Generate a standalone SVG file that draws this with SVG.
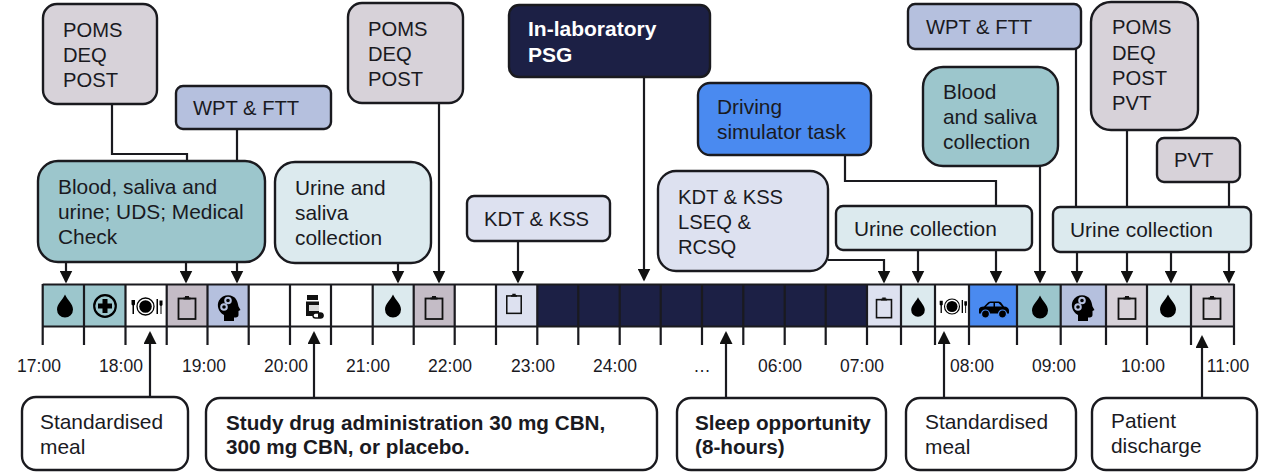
<svg xmlns="http://www.w3.org/2000/svg" width="1280" height="473" viewBox="0 0 1280 473">
<style>
text{font-family:"Liberation Sans",Arial,sans-serif;font-size:20.9px;fill:#1a1a1f}
text.k{font-size:20.200px}
.n rect{stroke:#1a1a1f;stroke-width:2.400}
.w rect{fill:#fff}
.bold text{font-weight:700;font-size:20.700px}
.teal{fill:#9cc6cc}.pale{fill:#dceaee}.mauve{fill:#d7d2d9}.peri{fill:#b5c0de}.lav{fill:#dde1f0}.navy{fill:#1c2045}.blue{fill:#4a8af0}
text.t{font-size:17.500px;text-anchor:middle}
.c{fill:none;stroke:#1a1a1f;stroke-width:2.200}
.a{marker-end:url(#ah)}
.tick{stroke:#1a1a1f;stroke-width:2.200;fill:none}
text.wh{fill:#fff;font-weight:700;font-size:21px}
</style>
<defs>
<marker id="ah" markerUnits="userSpaceOnUse" markerWidth="14" markerHeight="13" refX="11" refY="6.500" orient="auto"><path d="M0 0L13 6.500L0 13z" fill="#111"/></marker>
<symbol id="drop" overflow="visible"><path d="M0-11.500C2.500-6 8-2 8 3.500A8 8 0 0 1-8 3.500C-8-2-2.500-6 0-11.500z" fill="#000"/></symbol>
<symbol id="clip" overflow="visible"><rect x="-8.500" y="-9.500" width="17" height="20.500" fill="none" stroke="#111" stroke-width="1.800"/><path d="M-3.500-8.500V-10.500H-2V-12H2V-10.500H3.500V-8.500z" fill="#111"/></symbol>
<symbol id="plate" overflow="visible"><circle r="8.500" fill="none" stroke="#000" stroke-width="1.300"/><circle r="6.300" fill="#000"/><path d="M-14-6.500V-2L-13-1V7.500H-11.500V-1L-10.500-2V-6.500z" fill="#000"/><path d="M11-7.500V7.500H12.500V-7.500zM14-6V-1.500L15-0.500V7.500H16V-0.500L17-1.500V-6z" fill="#000"/></symbol>
<symbol id="head" overflow="visible"><path d="M-5 13V7C-11 4-12.500-3-10-7.500C-6.500-14 4-14.500 7.500-8C9-5 9-3 9.500-1.500L11.500 2L9.500 3V7C9.500 9 8 9.500 5 9.500V13z" fill="#000"/><circle cx="-1" cy="-7.500" r="2.800" fill="none" stroke="#b5c0de" stroke-width="2"/><circle cx="-5" cy="-1" r="2.800" fill="none" stroke="#b5c0de" stroke-width="2"/></symbol>
<symbol id="car" overflow="visible"><path d="M-15 4V0C-15-2-13-3-10-3L-6-7C-5-8-4-8-3-8H4C5-8 6-8 7-7L10-3C13-3 15-1 15 1V4z" fill="#000"/><path d="M-8-3L-4-6.500H-0.500V-3zM1-3V-6.500H4.500L8-3z" fill="#4a8af0"/><circle cx="-8.500" cy="4.500" r="4" fill="#000" stroke="#4a8af0" stroke-width="1.200"/><circle cx="8.500" cy="4.500" r="4" fill="#000" stroke="#4a8af0" stroke-width="1.200"/></symbol>
</defs>

<g id="timeline">
<rect x="43" y="285" width="83" height="41.500" class="teal"/>
<rect x="167" y="285" width="41" height="41.500" fill="#c4bcc6"/>
<rect x="208" y="285" width="41" height="41.500" class="peri"/>
<rect x="373" y="285" width="41" height="41.500" class="pale"/>
<rect x="414" y="285" width="41" height="41.500" fill="#c4bcc6"/>
<rect x="496" y="285" width="41" height="41.500" class="lav"/>
<rect x="537" y="285" width="330" height="41.500" class="navy"/>
<rect x="867" y="285" width="34" height="41.500" class="lav"/>
<rect x="901" y="285" width="34" height="41.500" class="pale"/>
<rect x="969" y="285" width="48" height="41.500" class="blue"/>
<rect x="1017" y="285" width="44" height="41.500" class="teal"/>
<rect x="1061" y="285" width="45" height="41.500" class="peri"/>
<rect x="1106" y="285" width="41" height="41.500" class="mauve"/>
<rect x="1147" y="285" width="44" height="41.500" class="pale"/>
<rect x="1191" y="285" width="43" height="41.500" class="mauve"/>
<path class="tick" d="M42.700 284.500H1234.500M42.700 326.500H1234.500"/>
<path class="tick" d="M42.700 284V345M84 284V345M125.500 284V345M166.700 284V345M207.500 284V345M248.700 284V345M290 284V345M331 284V345M372.700 284V345M413.700 284V345M454.700 284V345M496 284V345M537.300 284V345M578.300 284V345M619.700 284V345M660.700 284V345M702 284V345M743.300 284V345M784.700 284V345M825.700 284V345M867 284V345M901 284V345M935 284V345M969 284V345M1017 284V345M1060.700 284V345M1106 284V345M1147 284V345M1191 284V345M1234 284V345"/>
<use href="#drop" x="65" y="306"/>
<g transform="translate(105 306)"><circle r="10.800" fill="none" stroke="#000" stroke-width="2.200"/><path d="M-2.500-7H2.500V-2.500H7V2.500H2.500V7H-2.500V2.500H-7V-2.500H-2.500z" fill="#000"/></g>
<use href="#plate" x="145.500" y="306.500"/>
<use href="#clip" x="187" y="308"/>
<use href="#head" x="229" y="308"/>
<g id="pill-icon"><path d="M307 295H318V300H307zM306 301.500H319V316H306z" fill="#111"/><path d="M309 305H319V311H309z" fill="#d8d8d8"/><rect x="313" y="313" width="10" height="5" rx="2.500" fill="#fff" stroke="#111" stroke-width="1.400"/><path d="M318 313h3a2.500 2.500 0 0 1 0 5h-3z" fill="#111"/></g>
<use href="#drop" x="393" y="306"/>
<use href="#clip" x="434" y="308"/>
<g transform="translate(514 304) scale(.85)"><use href="#clip"/></g>
<g transform="translate(884 308) scale(.88)"><use href="#clip"/></g>
<g transform="translate(918 307) scale(.85)"><use href="#drop"/></g>
<g transform="translate(952 306.500) scale(.88)"><use href="#plate"/></g>
<use href="#car" x="994" y="309.500"/>
<use href="#drop" x="1040" y="307"/>
<use href="#head" x="1083" y="308"/>
<use href="#clip" x="1127" y="308"/>
<use href="#drop" x="1168" y="306"/>
<use href="#clip" x="1212" y="308"/>
<text class="t" x="39" y="372">17:00</text>
<text class="t" x="121" y="372">18:00</text>
<text class="t" x="204" y="372">19:00</text>
<text class="t" x="286" y="372">20:00</text>
<text class="t" x="368" y="372">21:00</text>
<text class="t" x="450" y="372">22:00</text>
<text class="t" x="533" y="372">23:00</text>
<text class="t" x="615" y="372">24:00</text>
<text class="t" x="702" y="372">…</text>
<text class="t" x="780" y="372">06:00</text>
<text class="t" x="862" y="372">07:00</text>
<text class="t" x="972" y="372">08:00</text>
<text class="t" x="1054" y="372">09:00</text>
<text class="t" x="1143" y="372">10:00</text>
<text class="t" x="1228" y="372">11:00</text>
</g>

<g id="connectors">
<path class="c" d="M112 104V154H187V161"/>
<path class="c" d="M237 129V161"/>
<path class="c a" d="M66 262V281.500"/>
<path class="c a" d="M186 262V281.500"/>
<path class="c a" d="M237 262V281.500"/>
<path class="c a" d="M398 263V281.500"/>
<path class="c a" d="M439 103V281.500"/>
<path class="c a" d="M518 241V281.500"/>
<path class="c a" d="M644 77V279.500"/>
<path class="c" d="M845 155V181H996V206"/>
<path class="c a" d="M828 260H884V281.500"/>
<path class="c a" d="M918 250V281.500"/>
<path class="c a" d="M996 250V281.500"/>
<path class="c a" d="M1040 166V281.500"/>
<path class="c" d="M1076 49V207"/>
<path class="c" d="M1127 130V207"/>
<path class="c" d="M1229 182V207"/>
<path class="c a" d="M1077 252V281.500"/>
<path class="c a" d="M1127 252V281.500"/>
<path class="c a" d="M1171 252V281.500"/>
<path class="c a" d="M1229 252V281.500"/>
<path class="c a" d="M150 397V333"/>
<path class="c a" d="M314 398V333"/>
<path class="c a" d="M726 398V333"/>
<path class="c a" d="M944 398V333"/>
<path class="c a" d="M1202 398V337"/>
</g>

<g id="n-poms1" class="n"><rect x="43" y="4" width="114" height="100" rx="14" class="mauve"/><text class="k" x="63" y="37">POMS</text><text class="k" x="63" y="62">DEQ</text><text class="k" x="63" y="87">POST</text></g>
<g id="n-wpt1" class="n"><rect x="176" y="86" width="155" height="43" rx="7" class="peri"/><text class="k" x="193" y="115">WPT &amp; FTT</text></g>
<g id="n-blood1" class="n"><rect x="38" y="161" width="227" height="101" rx="20" class="teal"/><text x="58" y="194">Blood, saliva and</text><text x="58" y="219">urine; UDS; Medical</text><text x="58" y="244">Check</text></g>
<g id="n-urine-saliva" class="n"><rect x="275" y="162" width="156" height="101" rx="20" class="pale"/><text x="295" y="195">Urine and</text><text x="295" y="220">saliva</text><text x="295" y="245">collection</text></g>
<g id="n-poms2" class="n"><rect x="348" y="3" width="115" height="100" rx="14" class="mauve"/><text class="k" x="368" y="36">POMS</text><text class="k" x="368" y="61">DEQ</text><text class="k" x="368" y="86">POST</text></g>
<g id="n-kdt1" class="n"><rect x="467" y="196" width="143" height="45" rx="7" class="lav"/><text class="k" x="484" y="226">KDT &amp; KSS</text></g>
<g id="n-psg" class="n"><rect x="509" y="5" width="201" height="72" rx="10" class="navy"/><text class="wh" x="528" y="36">In-laboratory</text><text class="wh" x="528" y="62">PSG</text></g>
<g id="n-driving" class="n"><rect x="698" y="83" width="173" height="72" rx="12" class="blue"/><text x="717" y="114">Driving</text><text x="717" y="139">simulator task</text></g>
<g id="n-kdt2" class="n"><rect x="658" y="171" width="170" height="100" rx="18" class="lav"/><text class="k" x="678" y="204">KDT &amp; KSS</text><text class="k" x="678" y="229">LSEQ &amp;</text><text class="k" x="678" y="254">RCSQ</text></g>
<g id="n-urine1" class="n"><rect x="836" y="206" width="196" height="44" rx="7" class="pale"/><text x="854" y="236">Urine collection</text></g>
<g id="n-wpt2" class="n"><rect x="908" y="4" width="173" height="45" rx="7" class="peri"/><text class="k" x="926" y="34">WPT &amp; FTT</text></g>
<g id="n-blood2" class="n"><rect x="923" y="67" width="135" height="99" rx="20" class="teal"/><text x="943" y="99">Blood</text><text x="943" y="124">and saliva</text><text x="943" y="149">collection</text></g>
<g id="n-poms3" class="n"><rect x="1091" y="2" width="107" height="128" rx="20" class="mauve"/><text class="k" x="1112" y="34">POMS</text><text class="k" x="1112" y="60">DEQ</text><text class="k" x="1112" y="85">POST</text><text class="k" x="1112" y="110">PVT</text></g>
<g id="n-pvt" class="n"><rect x="1157" y="138" width="83" height="44" rx="7" class="mauve"/><text class="k" x="1174" y="167">PVT</text></g>
<g id="n-urine2" class="n"><rect x="1053" y="207" width="198" height="45" rx="7" class="pale"/><text x="1070" y="237">Urine collection</text></g>
<g id="n-meal1" class="n w"><rect x="22" y="397" width="166" height="73" rx="14"/><text x="40" y="429">Standardised</text><text x="40" y="454">meal</text></g>
<g id="n-drug" class="n w bold"><rect x="206" y="398" width="451" height="72" rx="14"/><text x="226" y="430">Study drug administration 30 mg CBN,</text><text x="226" y="454">300 mg CBN, or placebo.</text></g>
<g id="n-sleep" class="n w bold"><rect x="677" y="398" width="209" height="72" rx="14"/><text x="695" y="430">Sleep opportunity</text><text x="695" y="454">(8-hours)</text></g>
<g id="n-meal2" class="n w"><rect x="906" y="398" width="170" height="72" rx="14"/><text x="925" y="429">Standardised</text><text x="925" y="454">meal</text></g>
<g id="n-discharge" class="n w"><rect x="1092" y="398" width="165" height="72" rx="14"/><text x="1111" y="428">Patient</text><text x="1111" y="453">discharge</text></g>
</svg>
